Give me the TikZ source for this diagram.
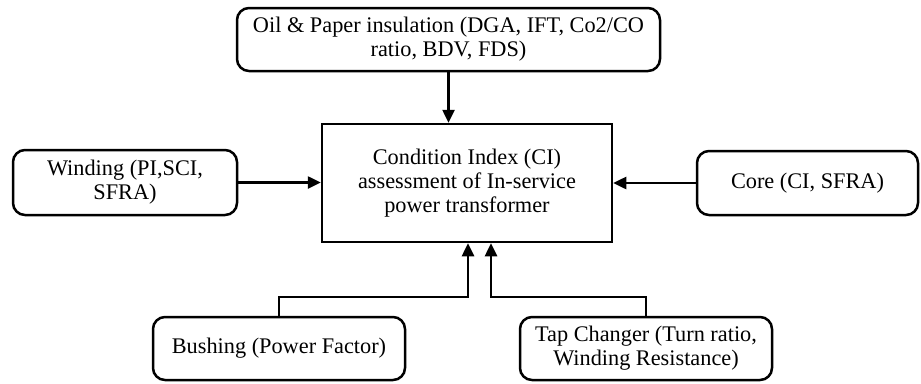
\documentclass[tikz,border=0pt]{standalone}
\usepackage{fontspec}
\setmainfont{Liberation Serif}
\usetikzlibrary{arrows.meta,calc}

\tikzset{
  blk/.style={draw,line width=2.5pt,rounded corners=12pt,align=center,
    inner sep=2pt,font=\fontsize{22.3}{24}\selectfont},
  mainblk/.style={draw,line width=2.5pt,align=center,
    inner sep=2pt,font=\fontsize{22.3}{24}\selectfont},
  arr/.style={line width=2.5pt,-{Triangle[length=13pt,width=12pt]}}
}

\begin{document}
\begin{tikzpicture}[x=1pt,y=1pt]
\useasboundingbox (0,0) rectangle (921,-383);

\node[mainblk,minimum width=290,minimum height=118] (main) at (467,-183)
  {Condition Index (CI)\\assessment of In-service\\power transformer};

\node[blk,minimum width=423,minimum height=63] (oil) at (448.5,-39.5)
  {Oil \& Paper insulation (DGA, IFT, Co2/CO\\ratio, BDV, FDS)};
\node[blk,minimum width=224,minimum height=65] (wind) at (125,-182.5)
  {Winding (PI,SCI,\\SFRA)};
\node[blk,minimum width=221,minimum height=64] (core) at (807.5,-183)
  {Core (CI, SFRA)};
\node[blk,minimum width=252,minimum height=63] (bush) at (279,-348.5)
  {Bushing (Power Factor)};
\node[blk,minimum width=252,minimum height=63] (tap) at (646,-348.5)
  {Tap Changer (Turn ratio,\\Winding Resistance)};

% bends below the main block
\coordinate (jb) at (468,-297);
\coordinate (jt) at (491,-297);

\draw[arr] (oil.south) -- (oil.south |- main.north);
\draw[arr] (wind.east) -- (wind.east -| main.west);
\draw[arr] (core.west) -- (core.west -| main.east);
\draw[arr] (bush.north) |- (jb) -- (jb |- main.south);
\draw[arr] (tap.north) |- (jt) -- (jt |- main.south);

\end{tikzpicture}
\end{document}
